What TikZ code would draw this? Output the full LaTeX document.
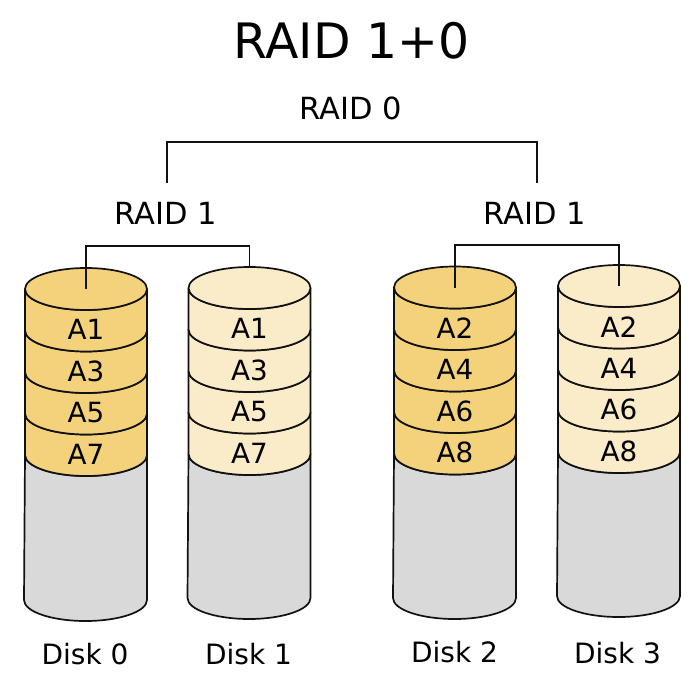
\documentclass[tikz,border=0pt]{standalone}
\usepackage{fontspec}
\setmainfont{DejaVu Sans}
\definecolor{darkfill}{HTML}{F3D27B}
\definecolor{lightfill}{HTML}{FAEBC9}
\definecolor{diskgray}{HTML}{D9D9D9}
\definecolor{ink}{HTML}{111111}
\tikzset{
  diskline/.style={draw=ink, line width=1.7pt, line join=round},
  bracket/.style={draw=ink, line width=1.8pt},
  celltext/.style={inner sep=0pt, font=\fontsize{27.8}{33}\selectfont},
  disklabel/.style={inner sep=0pt, font=\fontsize{28}{33}\selectfont},
  raidlabel/.style={inner sep=0pt, font=\fontsize{30.5}{36}\selectfont},
  titlelabel/.style={inner sep=0pt, font=\fontsize{48.8}{58}\selectfont},
}
% one band of a disk: #1 centre x, #2 top y, #3 fill
\newcommand\diskband[3]{%
  \draw[diskline, fill=#3] ({#1-61},{#2}) -- ({#1-61},{#2+41.5})
    arc[start angle=180, end angle=0, x radius=61, y radius=21]
    -- ({#1+61},{#2})
    arc[start angle=0, end angle=180, x radius=61, y radius=21] -- cycle;}
% #1 name, #2 cx, #3 top centre y, #4 bottom centre y, #5 fill, #6-#9 labels
\newcommand\drawdisk[9]{%
  \draw[diskline, fill=diskgray] ({#2-61},{#3+166}) -- ({#2-62},{#4})
    arc[start angle=180, end angle=0, x radius=61.5, y radius=21]
    -- ({#2+61},{#3+166})
    arc[start angle=0, end angle=180, x radius=61, y radius=21] -- cycle;
  \diskband{#2}{#3+124.5}{#5}
  \diskband{#2}{#3+83}{#5}
  \diskband{#2}{#3+41.5}{#5}
  \diskband{#2}{#3}{#5}
  \draw[diskline, fill=#5] (#2,#3) ellipse[x radius=61, y radius=21];
  \node[celltext] (#1-a) at (#2,{#3+40.75}) {#6};
  \node[celltext] (#1-b) at (#2,{#3+82.25}) {#7};
  \node[celltext] (#1-c) at (#2,{#3+123.75}) {#8};
  \node[celltext] (#1-d) at (#2,{#3+165.25}) {#9};
  \coordinate (#1-top) at (#2,{#3-21});
  \coordinate (#1-mid) at (#2,#3);
}
\begin{document}
\begin{tikzpicture}[x=1pt, y=1pt, yscale=-1]
\useasboundingbox (0,0) rectangle (700,700);
\fill[white] (0,0) rectangle (700,700);

\drawdisk{d0}{86}{289}{600}{darkfill}{A1}{A3}{A5}{A7}
\drawdisk{d1}{249.5}{288}{598}{lightfill}{A1}{A3}{A5}{A7}
\drawdisk{d2}{455}{287.5}{598}{darkfill}{A2}{A4}{A6}{A8}
\drawdisk{d3}{619}{286}{596}{lightfill}{A2}{A4}{A6}{A8}

\node[disklabel] (l0) at (85,654) {Disk 0};
\node[disklabel] (l1) at (248.5,654) {Disk 1};
\node[disklabel] (l2) at (454.5,652.5) {Disk 2};
\node[disklabel] (l3) at (617.5,653) {Disk 3};

\node[titlelabel] (title) at (351.5,41) {RAID 1+0};
\node[raidlabel] (raid0) at (350.5,108) {RAID 0};
\node[raidlabel] (raid1a) at (166,213) {RAID 1};
\node[raidlabel] (raid1b) at (535,213) {RAID 1};

% RAID 0 bracket
\coordinate (b0l) at (167,183);
\coordinate (b0r) at (537,183);
\coordinate (b0h) at (350,142);
\draw[bracket] (b0l) -- (b0l |- b0h) -- (b0r |- b0h) -- (b0r);

% left RAID 1 bracket
\coordinate (b1h) at (160,246);
\draw[bracket] (d0-mid) -- (d0-mid |- b1h) -- (d1-top |- b1h) -- (d1-top);

% right RAID 1 bracket
\coordinate (b2h) at (530,245);
\draw[bracket] (d2-mid) -- (d2-mid |- b2h) -- (d3-mid |- b2h) -- (d3-mid);
\end{tikzpicture}
\end{document}
